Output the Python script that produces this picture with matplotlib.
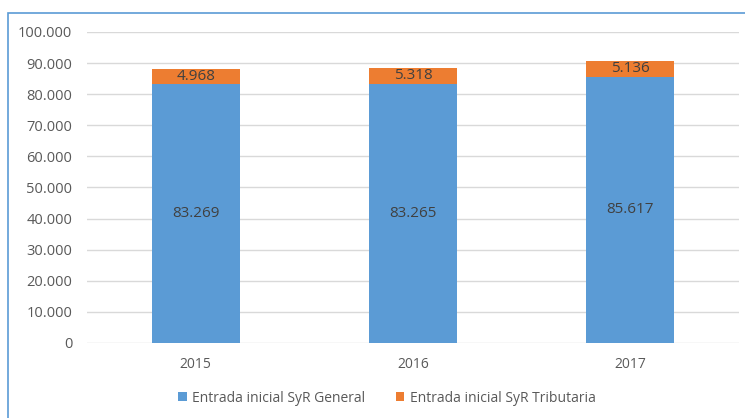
import matplotlib
matplotlib.use("Agg")
import matplotlib.pyplot as plt
from matplotlib.patches import Rectangle

years = ["2015", "2016", "2017"]
general = [83269, 83265, 85617]
tributaria = [4968, 5318, 5136]
yticks = [0, 10000, 20000, 30000, 40000, 50000, 60000, 70000, 80000, 90000, 100000]

def fmt(v):
    return f"{v:,}".replace(",", ".")

plt.rcParams['font.family'] = ['Open Sans', 'DejaVu Sans']

fig = plt.figure(figsize=(7.45, 4.18), dpi=100)
ax = fig.add_axes([87/745, 75/418, 652/745, 311/418])

blue = "#5B9BD5"
orange = "#ED7D31"
x = list(range(len(years)))
w = 0.405
b1 = ax.bar(x, general, width=w, color=blue, label="Entrada inicial SyR General", zorder=2)
b2 = ax.bar(x, tributaria, width=w, bottom=general, color=orange, label="Entrada inicial SyR Tributaria", zorder=2)

for i in x:
    ax.text(i, general[i] / 2, fmt(general[i]), ha="center", va="center", fontsize=11, color="#404040")
    ax.text(i, general[i] + tributaria[i] / 2, fmt(tributaria[i]), ha="center", va="center", fontsize=11, color="#404040")

ax.set_xlim(-0.5, 2.5)
ax.set_ylim(0, 100000)
ax.set_yticks(yticks)
ax.set_yticklabels([fmt(v) for v in yticks], fontsize=10.5, color="#595959")
ax.set_xticks(x)
ax.set_xticklabels(years, fontsize=10, color="#595959")
ax.tick_params(length=0)
ax.tick_params(axis="y", pad=10.5)
ax.tick_params(axis="x", pad=10)
ax.grid(axis="y", color="#D9D9D9", linewidth=1, zorder=0)
for s in ax.spines.values():
    s.set_visible(False)

leg = fig.legend(handles=[b1, b2], loc="center", bbox_to_anchor=(387/745, 1 - 398/418), ncol=2,
                 frameon=False, fontsize=10, handlelength=0.6, handleheight=0.6,
                 handletextpad=0.4, columnspacing=2.2)
for t in leg.get_texts():
    t.set_color("#595959")

fig.patches.append(Rectangle((8/745, -0.1), 1.2, 1 - 13/418 + 0.1, transform=fig.transFigure,
                             fill=False, edgecolor="#5B9BD5", linewidth=1.2, figure=fig))

fig.savefig("out.png", dpi=100)
